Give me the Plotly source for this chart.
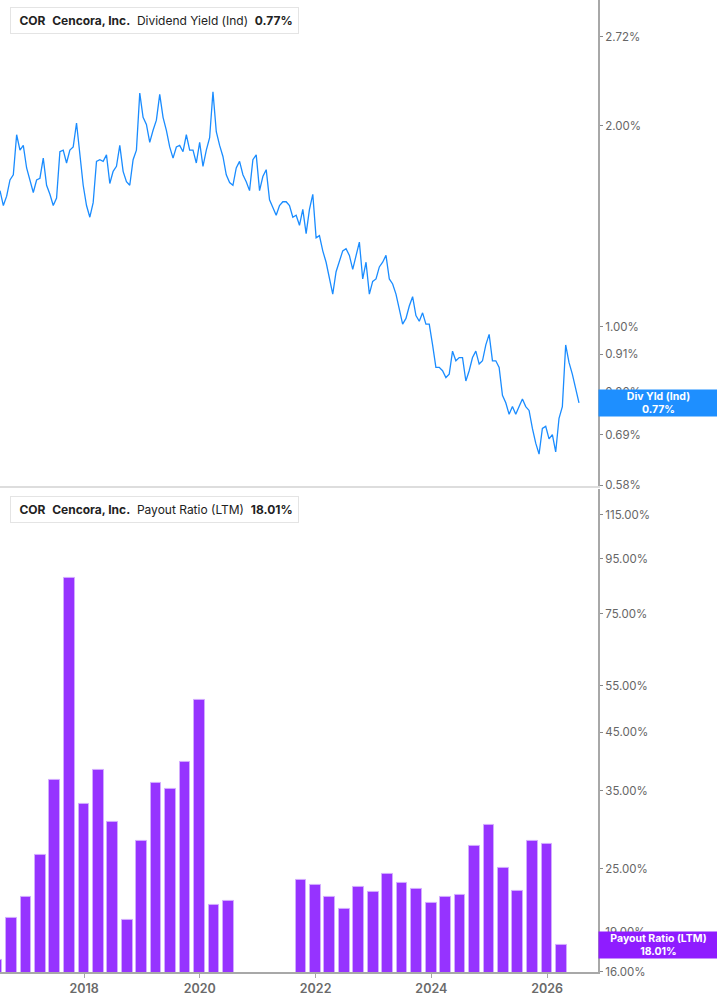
import pandas as pd
import numpy as np
import plotly.graph_objects as go
from plotly.subplots import make_subplots

# ---------------- data ----------------
yield_start = "2016-07-19"
yield_step = "21D"
div_yield = [
    1.60, 1.52, 1.57, 1.66, 1.69, 1.94, 1.84, 1.87, 1.73, 1.65,
    1.59, 1.66, 1.67, 1.79, 1.63, 1.58, 1.52, 1.56, 1.83, 1.84,
    1.76, 1.84, 1.86, 2.02, 1.79, 1.63, 1.52, 1.46, 1.535, 1.77,
    1.78, 1.77, 1.81, 1.64, 1.71, 1.74, 1.87, 1.71, 1.65, 1.63,
    1.78, 1.84, 2.24, 2.06, 2.01, 1.89, 1.97, 2.04, 2.23, 2.06,
    1.97, 1.86, 1.79, 1.86, 1.87, 1.83, 1.94, 1.84, 1.84, 1.76,
    1.89, 1.74, 1.84, 1.92, 2.25, 1.96, 1.87, 1.80, 1.69, 1.645,
    1.63, 1.73, 1.77, 1.69, 1.65, 1.60, 1.78, 1.81, 1.60, 1.68,
    1.72, 1.55, 1.51, 1.47, 1.52, 1.54, 1.54, 1.52, 1.46, 1.47,
    1.42, 1.50, 1.38, 1.50, 1.58, 1.36, 1.37, 1.30, 1.25, 1.18,
    1.12, 1.21, 1.25, 1.30, 1.31, 1.28, 1.22, 1.28, 1.34, 1.18,
    1.25, 1.12, 1.17, 1.18, 1.23, 1.25, 1.28, 1.18, 1.16, 1.12,
    1.06, 1.01, 1.03, 1.075, 1.11, 1.04, 1.02, 1.05, 1.01, 1.01,
    0.94, 0.87, 0.87, 0.86, 0.84, 0.85, 0.92, 0.89, 0.90, 0.90,
    0.83, 0.86, 0.90, 0.92, 0.88, 0.89, 0.94, 0.975, 0.89, 0.89,
    0.87, 0.79, 0.77, 0.74, 0.76, 0.74, 0.76, 0.78, 0.76, 0.75,
    0.705, 0.67, 0.645, 0.705, 0.71, 0.68, 0.69, 0.65, 0.73, 0.76,
    0.94, 0.885, 0.85, 0.81, 0.77,
]
yield_dates = pd.date_range(yield_start, periods=len(div_yield), freq=yield_step)

payout_dates = [
    "2016-06-30", "2016-09-30", "2016-12-31", "2017-03-31", "2017-06-30",
    "2017-09-30", "2017-12-31", "2018-03-31", "2018-06-30", "2018-09-30",
    "2018-12-31", "2019-03-31", "2019-06-30", "2019-09-30", "2019-12-31",
    "2020-03-31", "2020-06-30", "2020-09-30", "2020-12-31", "2021-03-31",
    "2021-06-30", "2021-09-30", "2021-12-31", "2022-03-31", "2022-06-30",
    "2022-09-30", "2022-12-31", "2023-03-31", "2023-06-30", "2023-09-30",
    "2023-12-31", "2024-03-31", "2024-06-30", "2024-09-30", "2024-12-31",
    "2025-03-31", "2025-06-30", "2025-09-30", "2025-12-31", "2026-03-31",
]
payout_ratio = [
    16.85, 20.2, 22.1, 26.5, 36.6,
    87.7, 33.0, 38.3, 30.6, 20.0,
    28.1, 36.1, 35.2, 39.6, 51.8,
    21.4, 21.7, None, None, None,
    None, 23.8, 23.3, 22.1, 21.0,
    23.1, 22.6, 24.4, 23.5, 22.9,
    21.6, 22.1, 22.3, 27.6, 30.2,
    25.1, 22.7, 28.1, 27.8, 18.01,
]

yield_ticks = [0.58, 0.69, 0.80, 0.91, 1.00, 2.00, 2.72]
payout_ticks = [16, 19, 25, 35, 45, 55, 75, 95, 115]
year_ticks = ["2018-01-01", "2020-01-01", "2022-01-01", "2024-01-01", "2026-01-01"]
year_labels = ["2018", "2020", "2022", "2024", "2026"]

last_yield = 0.77
last_payout = 18.01

# ---------------- style ----------------
BLUE = "#1a8cff"
PURPLE = "#9633ff"
PURPLE_TAG = "#8f1cff"
AXIS = "#a8a8a8"
TICKTXT = "#666666"
FONT = "Inter, Roboto, Arial, sans-serif"

fig = make_subplots(rows=2, cols=1, shared_xaxes=False)

fig.add_trace(go.Scatter(
    x=yield_dates, y=div_yield, mode="lines",
    line=dict(color=BLUE, width=1.3), hoverinfo="skip", showlegend=False,
), row=1, col=1)

fig.add_trace(go.Bar(
    x=pd.to_datetime(payout_dates), y=payout_ratio,
    width=67.5 * 86400000,
    marker=dict(color=PURPLE, line=dict(color="#d2abff", width=1)),
    hoverinfo="skip", showlegend=False,
), row=2, col=1)

x_range = ["2016-07-19", "2026-11-18"]

fig.update_layout(
    width=717, height=1005,
    margin=dict(l=0, r=119, t=0, b=33),
    paper_bgcolor="white", plot_bgcolor="white",
    font=dict(family=FONT, size=12, color="#222"),
    bargap=0,
    xaxis=dict(domain=[0, 1], range=x_range, type="date",
               showgrid=False, zeroline=False, showticklabels=False,
               showline=True, linecolor="#dddddd", linewidth=1.5, ticks=""),
    xaxis2=dict(domain=[0, 1], range=x_range, type="date",
                showgrid=False, zeroline=False,
                showline=True, linecolor=AXIS, linewidth=2,
                ticks="outside", ticklen=4, tickcolor=AXIS, tickwidth=1,
                tickvals=year_ticks, ticktext=year_labels,
                tickfont=dict(family=FONT, size=12.5, color="#6a6a6a", weight=600)),
    yaxis=dict(domain=[0.5, 1.0], type="log", side="right",
               range=[np.log10(0.578), np.log10(3.087)],
               showgrid=False, zeroline=False,
               showline=True, linecolor=AXIS, linewidth=2,
               ticks="outside", ticklen=3, tickcolor="#888", tickwidth=1,
               tickvals=yield_ticks,
               ticktext=[f"{v:.2f}%" for v in yield_ticks],
               tickfont=dict(family=FONT, size=11.5, color=TICKTXT)),
    yaxis2=dict(domain=[0, 0.497], type="log", side="right",
                range=[np.log10(16), np.log10(128.5)],
                showgrid=False, zeroline=False,
                showline=True, linecolor=AXIS, linewidth=2,
                ticks="outside", ticklen=3, tickcolor="#888", tickwidth=1,
                tickvals=payout_ticks,
                ticktext=[f"{v:.2f}%" for v in payout_ticks],
                tickfont=dict(family=FONT, size=11.5, color=TICKTXT)),
)

# value tags on the right axis
fig.add_annotation(
    xref="paper", x=1, xanchor="left", yref="y", y=np.log10(last_yield), yanchor="middle",
    text=f"<b>Div Yld (Ind)</b><br><b>{last_yield:.2f}%</b>",
    showarrow=False, align="center", bgcolor="#1e8fff", borderpad=2,
    width=115, height=22, font=dict(family=FONT, size=10.5, color="white"),
)
fig.add_annotation(
    xref="paper", x=1, xanchor="left", yref="y2", y=np.log10(last_payout), yanchor="middle",
    text=f"<b>Payout Ratio (LTM)</b><br><b>{last_payout:.2f}%</b>",
    showarrow=False, align="center", bgcolor=PURPLE_TAG, borderpad=2,
    width=115, height=22, font=dict(family=FONT, size=10.5, color="white"),
)

# legend boxes (top-left of each panel)
plot_h = 1005 - 33
plot_w = 717 - 119
NB = "\u00a0"

def legend_box(top_px, text, color):
    fig.add_annotation(
        xref="paper", yref="paper", x=10 / plot_w, y=1 - top_px / plot_h,
        xanchor="left", yanchor="top", showarrow=False, align="left",
        text=text, bgcolor="white", bordercolor="#e4e4e4", borderwidth=1,
        borderpad=5, font=dict(family=FONT, size=12, color="#222"),
    )
    fig.add_shape(
        type="rect", xref="paper", yref="paper",
        x0=10 / plot_w, x1=13 / plot_w,
        y0=1 - (top_px + 26) / plot_h, y1=1 - top_px / plot_h,
        fillcolor=color, line=dict(width=0), layer="above",
    )

legend_box(7, f"{NB}<b>COR</b>{NB}{NB}<b>Cencora, Inc.</b>{NB}{NB}Dividend Yield (Ind){NB}{NB}<b>{last_yield:.2f}%</b>", BLUE)
legend_box(496, f"{NB}<b>COR</b>{NB}{NB}<b>Cencora, Inc.</b>{NB}{NB}Payout Ratio (LTM){NB}{NB}<b>{last_payout:.2f}%</b>", PURPLE_TAG)

fig.write_html("out.html")
